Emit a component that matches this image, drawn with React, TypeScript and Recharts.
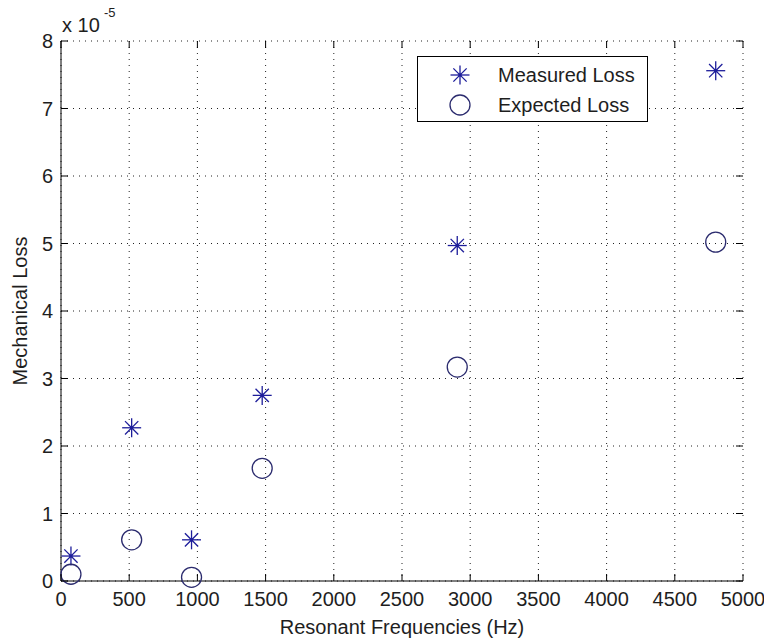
import { CartesianGrid, Legend, Scatter, ScatterChart, XAxis, YAxis } from "recharts";

// Resonant frequencies (Hz)
const frequencies = [73, 518, 957, 1475, 2905, 4800];
// Mechanical loss, in units of 1e-5
const measuredLoss = [0.37, 2.27, 0.61, 2.75, 4.97, 7.56];
const expectedLoss = [0.1, 0.61, 0.055, 1.67, 3.17, 5.02];

const xTicks = [0, 500, 1000, 1500, 2000, 2500, 3000, 3500, 4000, 4500, 5000];
const yTicks = [0, 1, 2, 3, 4, 5, 6, 7, 8];

const WIDTH = 764;
const HEIGHT = 640;
const TOP = 41;
const BOTTOM = 581;
const LEFT = 61;
const RIGHT = 743;
const TICK_LEN = 7;
const FONT = '"Liberation Sans", Arial, sans-serif';
const TEXT = "#1e1e1e";
const STAR = "#1d1d9a";
const RING = "#2b2b6e";

const measuredData = frequencies.map((f, i) => ({ f, v: measuredLoss[i] }));
const expectedData = frequencies.map((f, i) => ({ f, v: expectedLoss[i] }));

function Star({ cx, cy, r = 9.5 }: { cx: number; cy: number; r?: number }) {
  const d = r * 0.7;
  return (
    <g stroke={STAR} strokeWidth={1.3}>
      <line x1={cx - r} x2={cx + r} y1={cy} y2={cy} />
      <line x1={cx} x2={cx} y1={cy - r} y2={cy + r} />
      <line x1={cx - d} x2={cx + d} y1={cy - d} y2={cy + d} />
      <line x1={cx - d} x2={cx + d} y1={cy + d} y2={cy - d} />
      <circle cx={cx} cy={cy} r={1.8} fill={STAR} stroke="none" />
    </g>
  );
}

function Ring({ cx, cy }: { cx: number; cy: number }) {
  return <circle cx={cx} cy={cy} r={10} fill="none" stroke={RING} strokeWidth={1.3} />;
}

function XTick({ x, payload }: any) {
  return (
    <g>
      <line x1={x} x2={x} y1={BOTTOM} y2={BOTTOM - TICK_LEN} stroke="#000" />
      <line x1={x} x2={x} y1={TOP} y2={TOP + TICK_LEN} stroke="#000" />
      <text x={x} y={BOTTOM + 25} textAnchor="middle" fontSize={20} fontFamily={FONT} fill={TEXT}>
        {payload.value}
      </text>
    </g>
  );
}

function YTick({ y, payload }: any) {
  return (
    <g>
      <line x1={LEFT} x2={LEFT + TICK_LEN} y1={y} y2={y} stroke="#000" />
      <line x1={RIGHT} x2={RIGHT - TICK_LEN} y1={y} y2={y} stroke="#000" />
      <text x={LEFT - 8} y={y + 7} textAnchor="end" fontSize={20} fontFamily={FONT} fill={TEXT}>
        {payload.value}
      </text>
    </g>
  );
}

function LegendBox() {
  return (
    <div
      style={{
        width: 231,
        height: 66,
        border: "1px solid #000",
        background: "#fff",
        boxSizing: "border-box",
      }}
    >
      <svg width={229} height={64} style={{ display: "block" }}>
        <Star cx={42} cy={18} />
        <text x={80} y={25} fontSize={20} fontFamily={FONT} fill={TEXT}>
          Measured Loss
        </text>
        <Ring cx={42} cy={48} />
        <text x={80} y={55} fontSize={20} fontFamily={FONT} fill={TEXT}>
          Expected Loss
        </text>
      </svg>
    </div>
  );
}

export default function App() {
  return (
    <div style={{ position: "absolute", left: 0, top: 0, width: WIDTH, height: HEIGHT, background: "#fff" }}>
      <ScatterChart
        width={WIDTH}
        height={HEIGHT}
        margin={{ top: TOP, right: WIDTH - RIGHT, bottom: 0, left: 0 }}
      >
        <CartesianGrid stroke="#222" strokeDasharray="1 5" />
        <XAxis
          type="number"
          dataKey="f"
          domain={[0, 5000]}
          ticks={xTicks}
          interval={0}
          height={HEIGHT - BOTTOM}
          tickLine={false}
          axisLine={{ stroke: "#000" }}
          tick={<XTick />}
          label={{
            value: "Resonant Frequencies (Hz)",
            position: "insideBottom",
            offset: 6,
            fontSize: 20,
            fontFamily: FONT,
            fill: TEXT,
          }}
        />
        <XAxis
          xAxisId="top"
          orientation="top"
          type="number"
          domain={[0, 5000]}
          height={0}
          tick={false}
          tickLine={false}
          axisLine={{ stroke: "#000" }}
        />
        <YAxis
          type="number"
          dataKey="v"
          domain={[0, 8]}
          ticks={yTicks}
          interval={0}
          width={LEFT}
          tickLine={false}
          axisLine={{ stroke: "#000" }}
          tick={<YTick />}
          label={{
            value: "Mechanical Loss",
            angle: -90,
            position: "insideLeft",
            offset: 20,
            style: { textAnchor: "middle" },
            fontSize: 20,
            fontFamily: FONT,
            fill: TEXT,
          }}
        />
        <YAxis
          yAxisId="right"
          orientation="right"
          type="number"
          domain={[0, 8]}
          width={0}
          tick={false}
          tickLine={false}
          axisLine={{ stroke: "#000" }}
        />
        <Legend
          layout="vertical"
          align="center"
          verticalAlign="middle"
          content={<LegendBox />}
          wrapperStyle={{ left: 417, top: 56, width: 231, height: 66 }}
        />
        <Scatter
          name="Measured Loss"
          data={measuredData}
          shape={(p: any) => <Star cx={p.cx} cy={p.cy} />}
          isAnimationActive={false}
        />
        <Scatter
          name="Expected Loss"
          data={expectedData}
          shape={(p: any) => <Ring cx={p.cx} cy={p.cy} />}
          isAnimationActive={false}
        />
      </ScatterChart>
      <svg width={160} height={40} style={{ position: "absolute", left: 0, top: 0 }}>
        <text x={62} y={32} fontSize={20} fontFamily={FONT} fill={TEXT}>
          x 10
        </text>
        <text x={104} y={17} fontSize={13} fontFamily={FONT} fill={TEXT}>
          -5
        </text>
      </svg>
    </div>
  );
}
